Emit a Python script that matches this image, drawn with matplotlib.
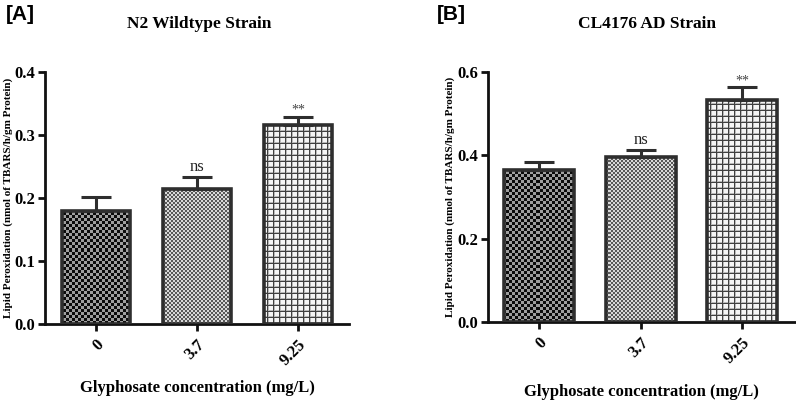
import matplotlib
matplotlib.use("Agg")
import matplotlib.pyplot as plt
import numpy as np

plt.rcParams['font.family'] = ['Liberation Serif', 'DejaVu Serif']

# data
conc_labels = ['0', '3.7', '9.25']
n2_means = [0.179, 0.215, 0.315]
n2_err = [0.022, 0.019, 0.014]
cl_means = [0.365, 0.395, 0.533]
cl_err = [0.018, 0.018, 0.030]
sig_labels = ['', 'ns', '**']

W, H, DPI = 796, 401, 100
edge = '#2e2e2e'


def pattern(kind, nx, ny):
    yy, xx = np.mgrid[0:ny, 0:nx]
    if kind == 0:
        c = ((xx // 3 + yy // 3) % 2).astype(float)
        img = np.where(c == 0, 0.05, 0.62)
    elif kind == 1:
        c = ((xx // 2 + yy // 2) % 2).astype(float)
        img = np.where(c == 0, 0.35, 0.85)
    else:
        img = np.ones((ny, nx)) * 0.96
        img[(xx % 6) == 1] = 0.72
        img[(yy % 6) == 1] = 0.72
        img[(xx % 6) == 0] = 0.25
        img[(yy % 6) == 0] = 0.25
    return img


def panel(rect, xlim, ylim, yticks, means, errs, width, title, title_pos,
          tag, tagpos, ylab_x, xlab_y):
    fig = plt.gcf()
    ax = fig.add_axes(rect)
    x = np.arange(len(means))
    ax.set_xlim(*xlim)
    ax.set_ylim(*ylim)
    bars = ax.bar(x, means, width=width, facecolor='none', edgecolor=edge,
                  linewidth=2.6, zorder=3)
    nx = int(round(rect[2] * W))
    ny = int(round(rect[3] * H))
    for i, b in enumerate(bars):
        im = ax.imshow(pattern(i, nx, ny), cmap='gray', vmin=0, vmax=1,
                       extent=(xlim[0], xlim[1], ylim[0], ylim[1]),
                       interpolation='nearest', aspect='auto', origin='lower',
                       zorder=2)
        im.set_clip_path(b)
    ax.set_xlim(*xlim)
    ax.set_ylim(*ylim)
    ax.errorbar(x, means, yerr=[np.zeros(len(errs)), errs], fmt='none',
                ecolor=edge, elinewidth=2.2, capsize=11, capthick=2.2, zorder=4)
    for xi, m, e, s in zip(x, means, errs, sig_labels):
        if s == 'ns':
            ax.annotate(s, (xi, m + e), xytext=(0, 1), textcoords='offset points',
                        ha='center', va='bottom', fontsize=12, color='#222')
        elif s:
            ax.annotate(s, (xi, m + e), xytext=(0, 0), textcoords='offset points',
                        ha='center', va='bottom', fontsize=10, color='#444')
    for s in ['top', 'right']:
        ax.spines[s].set_visible(False)
    for s in ['left', 'bottom']:
        ax.spines[s].set_linewidth(2)
        ax.spines[s].set_color('#111')
    ax.set_yticks(yticks)
    ax.set_yticklabels(['%.1f' % t for t in yticks], fontsize=12, fontweight='bold')
    ax.set_xticks(x)
    ax.set_xticklabels(conc_labels, fontsize=12, fontweight='bold', rotation=45,
                       ha='right', rotation_mode='anchor')
    ax.tick_params(axis='both', width=2, length=5, direction='out', color='#111')
    ax.tick_params(axis='y', pad=2)
    ax.tick_params(axis='x', pad=4)
    fig.text(title_pos / W, 1 - 24 / H, title, fontsize=12.5, fontweight='bold',
             ha='center', va='center')
    fig.text(tagpos[0], tagpos[1], tag, family='Liberation Sans', fontsize=15,
             fontweight='bold', ha='left', va='center')
    fig.text(ylab_x, rect[1] + rect[3] / 2,
             'Lipid Peroxidation (nmol of TBARS/h/gm Protein)', rotation=90,
             fontsize=8, fontweight='bold', ha='center', va='center')
    fig.text(rect[0] + rect[2] / 2, xlab_y, 'Glyphosate concentration (mg/L)',
             fontsize=12, fontweight='bold', ha='center', va='center')
    return ax


fig = plt.figure(figsize=(W / DPI, H / DPI), dpi=DPI)

panel([45 / W, 1 - 324.3 / H, 304 / W, 252.6 / H], (-0.505, 2.505), (0, 0.4),
      [0.0, 0.1, 0.2, 0.3, 0.4], n2_means, n2_err, 0.67,
      'N2 Wildtype Strain', 199, '[A]', (6 / W, 1 - 15 / H), 8 / W, 1 - 388 / H)
panel([488 / W, 1 - 322 / H, 307 / W, 250.3 / H], (-0.502, 2.52), (0, 0.6),
      [0.0, 0.2, 0.4, 0.6], cl_means, cl_err, 0.69,
      'CL4176 AD Strain', 647, '[B]', (437 / W, 1 - 15 / H), 450 / W, 1 - 392 / H)

fig.savefig('out.png', dpi=DPI)
